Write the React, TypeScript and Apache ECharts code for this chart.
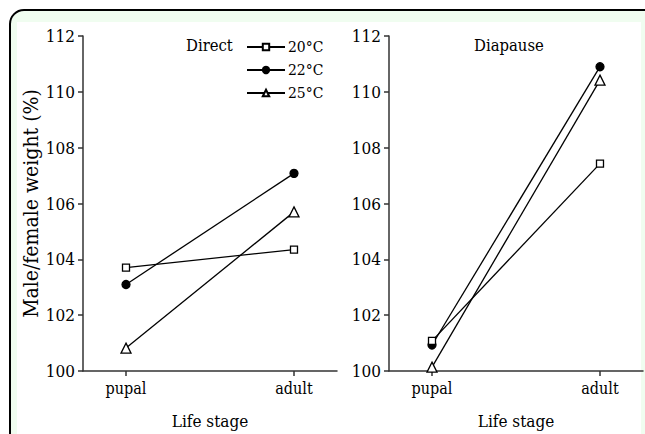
import React, { useEffect, useRef } from "react";
import * as echarts from "echarts";

const categories = ["pupal", "adult"];
const yTicks = [100, 102, 104, 106, 108, 110, 112];
const seriesNames = ["20°C", "22°C", "25°C"];
const direct20 = [103.7, 104.35];
const direct22 = [103.1, 107.08];
const direct25 = [100.82, 105.7];
const diapause20 = [101.08, 107.43];
const diapause22 = [100.93, 110.9];
const diapause25 = [100.14, 110.42];

const FONT = "DejaVu Serif Condensed";

export default function App() {
  const ref = useRef<HTMLDivElement>(null);
  useEffect(() => {
    if (!ref.current) return;
    const chart = echarts.init(ref.current, null, { renderer: "svg" });
    const toPairs = (vals: number[]) => vals.map((v, i) => [i, v]);
    const symbols = [
      { symbol: "rect", size: 7, fill: "#ffffff" },
      { symbol: "circle", size: 8, fill: "#000000" },
      { symbol: "triangle", size: 10, fill: "#ffffff" },
    ];
    const panels = [
      [direct20, direct22, direct25],
      [diapause20, diapause22, diapause25],
    ];
    const series: any[] = [];
    panels.forEach((panel, p) => {
      panel.forEach((vals, s) => {
        series.push({
          type: "line",
          name: seriesNames[s],
          xAxisIndex: p,
          yAxisIndex: p,
          data: toPairs(vals),
          symbol: symbols[s].symbol,
          symbolSize: symbols[s].size,
          showAllSymbol: true,
          lineStyle: { color: "#000", width: 1.3 },
          itemStyle: { color: symbols[s].fill, borderColor: "#000", borderWidth: 1.3 },
          z: 3 - s,
        });
      });
    });
    const xAxisBase = (idx: number) => ({
      type: "value",
      gridIndex: idx,
      min: -0.256,
      max: 1.256,
      name: "Life stage",
      nameLocation: "middle",
      nameGap: 41,
      nameTextStyle: { fontFamily: FONT, fontSize: 17, color: "#000" },
      splitLine: { show: false },
      axisLine: { show: true, onZero: false, lineStyle: { color: "#333", width: 1.5 } },
      axisTick: { show: true, length: 5, customValues: [0, 1], lineStyle: { color: "#333", width: 1.5 } },
      axisLabel: {
        customValues: [0, 1],
        formatter: (v: number) => categories[Math.round(v)] ?? "",
        fontFamily: FONT,
        fontSize: 16,
        color: "#000",
        margin: 9,
      },
    });
    const yAxisBase = (idx: number) => ({
      type: "value",
      gridIndex: idx,
      min: 100,
      max: 112,
      interval: 2,
      name: idx === 0 ? "Male/female weight (%)" : "",
      nameLocation: "middle",
      nameGap: 40,
      nameRotate: 90,
      nameTextStyle: { fontFamily: FONT, fontSize: 21, color: "#000" },
      splitLine: { show: false },
      axisLine: { show: true, onZero: false, lineStyle: { color: "#333", width: 1.5 } },
      axisTick: { show: true, length: 5, lineStyle: { color: "#333", width: 1.5 } },
      axisLabel: {
        fontFamily: FONT,
        fontSize: 17,
        color: "#000",
        margin: 8,
        formatter: (v: number) => (yTicks.includes(v) ? String(v) : ""),
      },
    });
    chart.setOption({
      animation: false,
      backgroundColor: "#ffffff",
      textStyle: { fontFamily: FONT },
      graphic: [
        {
          type: "rect",
          shape: { x: 10, y: 10, width: 660, height: 460, r: 14 },
          style: { fill: "#f0fdf0", stroke: "#000", lineWidth: 2 },
          z: -10,
          silent: true,
        },
        {
          type: "rect",
          shape: { x: 17, y: 22, width: 624, height: 440 },
          style: { fill: "#ffffff" },
          z: -9,
          silent: true,
        },
      ],
      title: [
        {
          text: "Direct",
          left: 181,
          top: 32,
          textStyle: { fontFamily: FONT, fontSize: 16.5, fontWeight: "normal", color: "#000" },
        },
        {
          text: "Diapause",
          left: 469,
          top: 32,
          textStyle: { fontFamily: FONT, fontSize: 16.5, fontWeight: "normal", color: "#000" },
        },
      ],
      legend: {
        data: seriesNames,
        orient: "vertical",
        left: 241,
        top: 34,
        itemWidth: 38,
        itemHeight: 8,
        itemGap: 7,
        textStyle: { fontFamily: FONT, fontSize: 15.5, color: "#000", padding: [0, 0, 0, -2] },
      },
      grid: [
        { left: 83, top: 36, width: 254, height: 341 },
        { left: 389, top: 36, width: 254, height: 341 },
      ],
      xAxis: [xAxisBase(0), xAxisBase(1)],
      yAxis: [yAxisBase(0), yAxisBase(1)],
      series,
    });
    return () => chart.dispose();
  }, []);
  return <div ref={ref} style={{ width: 645, height: 434, position: "absolute", left: 0, top: 0 }} />;
}
